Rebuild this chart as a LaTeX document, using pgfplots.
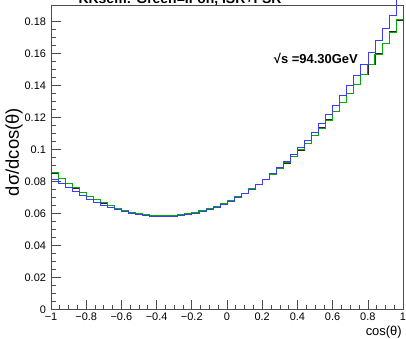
\documentclass[border=0pt]{standalone}
\usepackage{fontspec}
\setmainfont{Liberation Sans}
\usepackage{pgfplots}
\pgfplotsset{compat=1.18}
\usepackage{pgfplotstable}

\pgfplotstableread{
x bk gr bl
-1.00 0.0854 0.0857 0.0817
-0.96 0.0820 0.0823 0.0789
-0.92 0.0790 0.0788 0.0762
-0.88 0.0761 0.0763 0.0737
-0.84 0.0734 0.0736 0.0714
-0.80 0.0710 0.0708 0.0692
-0.76 0.0688 0.0690 0.0673
-0.72 0.0668 0.0670 0.0655
-0.68 0.0650 0.0649 0.0639
-0.64 0.0634 0.0636 0.0625
-0.60 0.0621 0.0622 0.0613
-0.56 0.0610 0.0609 0.0603
-0.52 0.0601 0.0603 0.0595
-0.48 0.0594 0.0595 0.0588
-0.44 0.0589 0.0591 0.0584
-0.40 0.0587 0.0588 0.0582
-0.36 0.0586 0.0588 0.0582
-0.32 0.0588 0.0590 0.0584
-0.28 0.0593 0.0594 0.0589
-0.24 0.0599 0.0601 0.0595
-0.20 0.0607 0.0609 0.0604
-0.16 0.0618 0.0619 0.0614
-0.12 0.0631 0.0632 0.0627
-0.08 0.0646 0.0648 0.0643
-0.04 0.0664 0.0665 0.0660
0.00 0.0683 0.0685 0.0680
0.04 0.0705 0.0706 0.0703
0.08 0.0729 0.0730 0.0727
0.12 0.0755 0.0756 0.0754
0.16 0.0783 0.0784 0.0784
0.20 0.0814 0.0815 0.0816
0.24 0.0846 0.0848 0.0850
0.28 0.0881 0.0882 0.0887
0.32 0.0918 0.0919 0.0927
0.36 0.0958 0.0957 0.0969
0.40 0.0999 0.1000 0.1013
0.44 0.1043 0.1042 0.1061
0.48 0.1089 0.1088 0.1111
0.52 0.1137 0.1136 0.1163
0.56 0.1187 0.1186 0.1219
0.60 0.1239 0.1238 0.1276
0.64 0.1294 0.1293 0.1337
0.68 0.1351 0.1349 0.1401
0.72 0.1410 0.1408 0.1467
0.76 0.1471 0.1469 0.1536
0.80 0.1535 0.1533 0.1609
0.84 0.1600 0.1598 0.1683
0.88 0.1668 0.1666 0.1761
0.92 0.1738 0.1736 0.1842
0.96 0.1810 0.1812 0.1960
1.00 0.1810 0.1812 0.1960
}\histdata

\definecolor{rootgreen}{RGB}{0,170,0}
\definecolor{rootblue}{RGB}{60,60,255}

\begin{document}
\begin{tikzpicture}[x=1bp,y=1bp]
\useasboundingbox (-51,-29.3) rectangle (355,309.7);
\clip (-51,-29.3) rectangle (355,309.7);
\begin{axis}[
  at={(0,0)}, anchor=south west,
  scale only axis, width=352bp, height=304bp,
  xmin=-1, xmax=1, ymin=0, ymax=0.19,
  clip=false,
  axis line style={black!70, line width=0.6bp},
  every tick/.style={black!70, line width=0.6bp},
  tick align=inside,
  xtick pos=bottom, ytick pos=left,
  major tick length=10bp, minor tick length=5bp,
  minor tick num=3,
  xtick={-1,-0.8,-0.6,-0.4,-0.2,0,0.2,0.4,0.6,0.8,1},
  xticklabels={−1,−0.8,−0.6,−0.4,−0.2,0,0.2,0.4,0.6,0.8,1},
  ytick={0,0.02,0.04,0.06,0.08,0.1,0.12,0.14,0.16,0.18},
  yticklabels={0,0.02,0.04,0.06,0.08,0.1,0.12,0.14,0.16,0.18},
  tick label style={font=\fontsize{11}{13}\selectfont},
  yticklabel style={xshift=-1.5bp},
  xlabel={cos(θ)},
  xlabel style={at={(axis description cs:0.997,-0.0849)}, anchor=base east, font=\fontsize{13}{15}\selectfont, inner sep=0pt},
  ylabel={dσ/dcos(θ)},
  ylabel style={at={(axis description cs:-0.1051,0.5188)}, anchor=center, font=\fontsize{18.5}{20}\selectfont, inner sep=0pt},
]
\addplot[const plot, draw=black!85, line width=0.6bp] table[x=x, y=bk] {\histdata};
\addplot[const plot, draw=rootgreen, line width=0.75bp] table[x=x, y=gr] {\histdata};
\addplot[const plot, draw=rootblue, line width=0.6bp] table[x=x, y=bl] {\histdata};
\node[anchor=base, font=\bfseries\fontsize{14}{16}\selectfont, inner sep=0pt] at (axis description cs:0.3665,1) [yshift=2bp] {KKsem: Green=IFon, ISR+FSR};
\node[anchor=east, font=\bfseries\fontsize{13}{15}\selectfont, inner sep=0pt] at (axis description cs:0.872,0.828) {√s =94.30GeV};
\end{axis}
\end{tikzpicture}
\end{document}
